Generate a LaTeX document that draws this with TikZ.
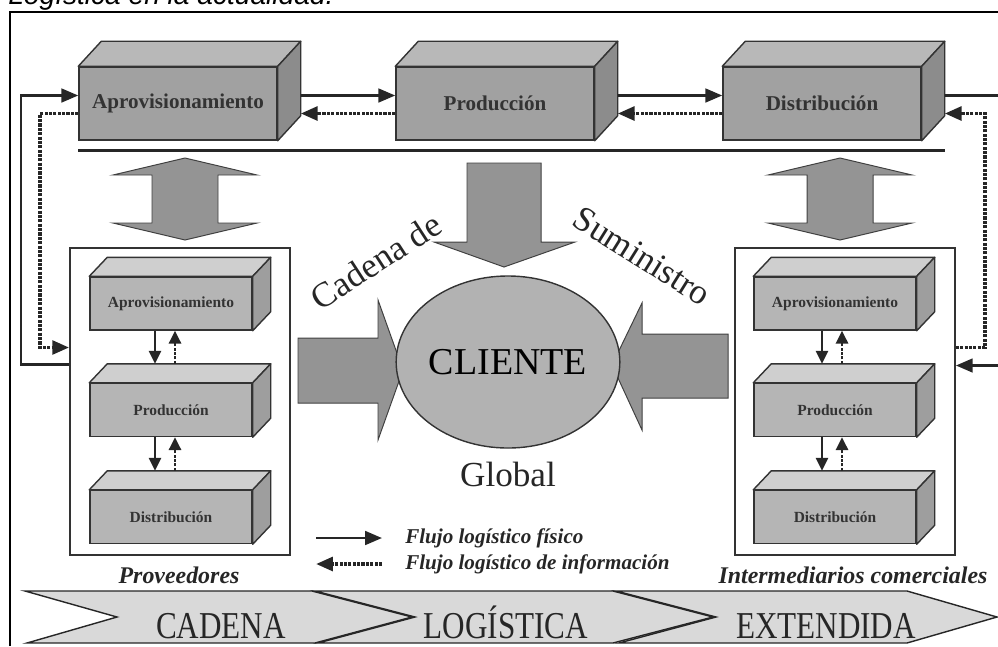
\documentclass[tikz,border=0pt]{standalone}
\usepackage{fontspec}
\setmainfont{Liberation Serif}
\newfontfamily\capfont{Liberation Sans}
\newfontfamily\narrowserif[FakeStretch=0.82]{Liberation Serif}
\usetikzlibrary{arrows.meta,shapes.geometric}

\definecolor{boxfront}{gray}{0.63}
\definecolor{boxtop}{gray}{0.72}
\definecolor{boxside}{gray}{0.55}
\definecolor{smallfront}{gray}{0.71}
\definecolor{smalltop}{gray}{0.81}
\definecolor{smallside}{gray}{0.62}
\definecolor{arrowgray}{gray}{0.58}
\definecolor{clientgray}{gray}{0.70}
\definecolor{chevgray}{gray}{0.85}

\begin{document}
\begin{tikzpicture}[x=0.025cm,y=-0.025cm]

%-------------------------------------------------
% Styles
%-------------------------------------------------
\tikzset{
  bigbox/.style={draw=black!80, fill=boxfront, line width=1pt, inner sep=0pt,
    minimum width=4.95cm, minimum height=1.825cm,
    font=\fontsize{15}{17}\selectfont\bfseries, text=black!80},
  smallbox/.style={draw=black!80, fill=smallfront, line width=1pt, inner sep=0pt,
    minimum width=4.05cm, minimum height=1.325cm,
    font=\fontsize{11}{13}\selectfont\bfseries, text=black!80},
  face/.style={draw=black!80, line width=1pt, line join=round},
  groupframe/.style={draw=black!80, line width=1.2pt, inner sep=0pt,
    minimum width=5.5cm, minimum height=7.675cm},
  fis/.style={draw=black!85, line width=1.9pt, -{Triangle[length=4.2mm,width=3.4mm]}},
  info/.style={draw=black!85, line width=2.6pt, dash pattern=on 2.2pt off 0.9pt,
    -{Triangle[length=4.2mm,width=3.4mm]}},
  fisv/.style={fis, line width=1.5pt, -{Triangle[length=3.2mm,width=3mm]}},
  infov/.style={info, line width=1.9pt, -{Triangle[length=3.2mm,width=3mm]}},
  blockarrow/.style={draw=black!75, fill=arrowgray, line width=0.7pt},
  chevron/.style={draw=black!85, fill=chevgray, line width=1pt, line join=miter},
  client/.style={ellipse, draw=black!80, fill=clientgray, line width=1pt, inner sep=0pt,
    minimum width=4.7cm, minimum height=4.3cm, font=\fontsize{27}{30}\selectfont},
  bigtext/.style={font=\fontsize{25}{28}\selectfont, text=black!85, inner sep=0pt},
  legend/.style={font=\fontsize{15}{17}\selectfont\bfseries\itshape, text=black!85, inner sep=0pt},
  grouplabel/.style={font=\fontsize{17}{19}\selectfont\bfseries\itshape, text=black!85, inner sep=0pt},
  chevtext/.style={font=\narrowserif\fontsize{27}{30}\selectfont, text=black!85, inner sep=0pt}
}

\useasboundingbox (0,0) rectangle (998,646);

% Caption (cut at the top)
\node[font=\capfont\itshape\fontsize{20}{22}\selectfont, anchor=base west, inner sep=0pt]
  (Cap) at (8,4) {Logística en la actualidad.};

% Outer frame
\draw[line width=1.6pt] (10,646) -- (10,12) -- (998,12);

%-------------------------------------------------
% Top row: the company
%-------------------------------------------------
\node[bigbox] (A) at (178,103.5) {Aprovisionamiento};
\node[bigbox] (P) at (495,103.5) {Producción};
\node[bigbox] (D) at (822,103.5) {Distribución};

\foreach \n in {A,P,D} {
  \draw[face, fill=boxtop] (\n.north west) -- ([shift={(23,-25)}]\n.north west)
    -- ([shift={(23,-25)}]\n.north east) -- (\n.north east) -- cycle;
  \draw[face, fill=boxside] (\n.north east) -- ([shift={(23,-25)}]\n.north east)
    -- ([shift={(23,-25)}]\n.south east) -- (\n.south east) -- cycle;
}

% Flows between top boxes
\draw[fis] ([shift={(23,-8)}]A.east) -- ([shift={(0,-8)}]P.west);
\draw[info] ([shift={(0,10)}]P.west) -- ([shift={(23,10)}]A.east);
\draw[fis] ([shift={(23,-8)}]P.east) -- ([shift={(0,-8)}]D.west);
\draw[info] ([shift={(0,10)}]D.west) -- ([shift={(23,10)}]P.east);

% Thick rule under the top row
\draw[line width=2.4pt, black!85] ([shift={(0,10)}]A.south west) -- ([shift={(23,10)}]D.south east);

%-------------------------------------------------
% Side groups
%-------------------------------------------------
\node[groupframe] (LF) at (180,401.5) {};
\node[groupframe] (RF) at (845,401.5) {};

\node[smallbox] (LA) at (171,303.5) {Aprovisionamiento};
\node[smallbox] (LP) at (171,410) {Producción};
\node[smallbox] (LD) at (171,517) {Distribución};
\node[smallbox] (RA) at (835,303.5) {Aprovisionamiento};
\node[smallbox] (RP) at (835,410) {Producción};
\node[smallbox] (RD) at (835,517) {Distribución};

\foreach \n in {LA,LP,LD,RA,RP,RD} {
  \draw[face, fill=smalltop] (\n.north west) -- ([shift={(18,-19)}]\n.north west)
    -- ([shift={(18,-19)}]\n.north east) -- (\n.north east) -- cycle;
  \draw[face, fill=smallside] (\n.north east) -- ([shift={(18,-19)}]\n.north east)
    -- ([shift={(18,-19)}]\n.south east) -- (\n.south east) -- cycle;
}

% Flows inside the groups
\foreach \u/\l/\o in {LA/LP/-16, LP/LD/-16, RA/RP/-13, RP/RD/-13} {
  \draw[fisv] ([shift={(\o,0)}]\u.south) -- ([shift={(\o,-19)}]\l.north);
  \draw[infov] ([shift={(\o+20,-19)}]\l.north) -- ([shift={(\o+20,0)}]\u.south);
}

% Loops between the groups and the top row
\draw[fis] ([shift={(0,-37)}]LF.west) -- ++(-48,0) |- ([shift={(0,-8)}]A.west);
\draw[info] ([shift={(0,10)}]A.west) -- ++(-38,0) |- ([shift={(0,-54)}]LF.west);
\draw[fis] ([shift={(23,-8)}]D.east) -- ++(70,0) |- ([shift={(0,-36)}]RF.east);
\draw[info] ([shift={(0,-54)}]RF.east) -- ++(29,0) |- ([shift={(23,10)}]D.east);

%-------------------------------------------------
% Block arrows and client
%-------------------------------------------------
\foreach \cx in {185,840} {
  \draw[blockarrow] (\cx,158) -- (\cx+72,175) -- (\cx+33,175) -- (\cx+33,223)
    -- (\cx+72,223) -- (\cx,240) -- (\cx-72,223) -- (\cx-33,223)
    -- (\cx-33,175) -- (\cx-72,175) -- cycle;
}
\draw[blockarrow] (467,163) -- (541,163) -- (541,242) -- (575,242) -- (504,267)
  -- (434,242) -- (467,242) -- cycle;
\draw[blockarrow] (298,338) -- (378,338) -- (378,300) -- (403,370) -- (378,440)
  -- (378,403) -- (298,403) -- cycle;
\draw[blockarrow] (728,334) -- (642,334) -- (642,303) -- (612,365) -- (642,430)
  -- (642,398) -- (728,398) -- cycle;

\node[client] (C) at (508,362) {CLIENTE};

\node[bigtext, rotate=33] (Cad) at (376,261) {Cadena de};
\node[bigtext, rotate=-32] (Sum) at (642,256) {Suministro};
\node[bigtext] (Glob) at (508,474) {Global};

%-------------------------------------------------
% Legend and group names
%-------------------------------------------------
\node[legend, anchor=west] (Lfis) at (405,538) {Flujo logístico físico};
\node[legend, anchor=west] (Linf) at (405,564) {Flujo logístico de información};
\coordinate (fisstart) at (316,538);
\coordinate (infend) at (316,564);
\draw[fis] (fisstart) -- ([xshift=-0.575cm]Lfis.west);
\draw[info] ([xshift=-0.575cm]Linf.west) -- (infend);

\node[grouplabel] (Prov) at (179,575) {Proveedores};
\node[grouplabel] (Inter) at (853,575) {Intermediarios comerciales};

%-------------------------------------------------
% Bottom band
%-------------------------------------------------
\draw[chevron] (25,591) -- (312,591) -- (412,617) -- (315,643) -- (27,643) -- (117,617) -- cycle;
\draw[chevron] (315,591) -- (613,591) -- (713,617) -- (613,643) -- (318,643) -- (415,617) -- cycle;
\draw[chevron] (616,591) -- (907,591) -- (997,617) -- (907,643) -- (619,643) -- (716,617) -- cycle;

\node[chevtext, anchor=base] (T1) at (221,638) {CADENA};
\node[chevtext, anchor=base] (T2) at (506,638) {LOGÍSTICA};
\node[chevtext, anchor=base] (T3) at (826,638) {EXTENDIDA};

\end{tikzpicture}
\end{document}
